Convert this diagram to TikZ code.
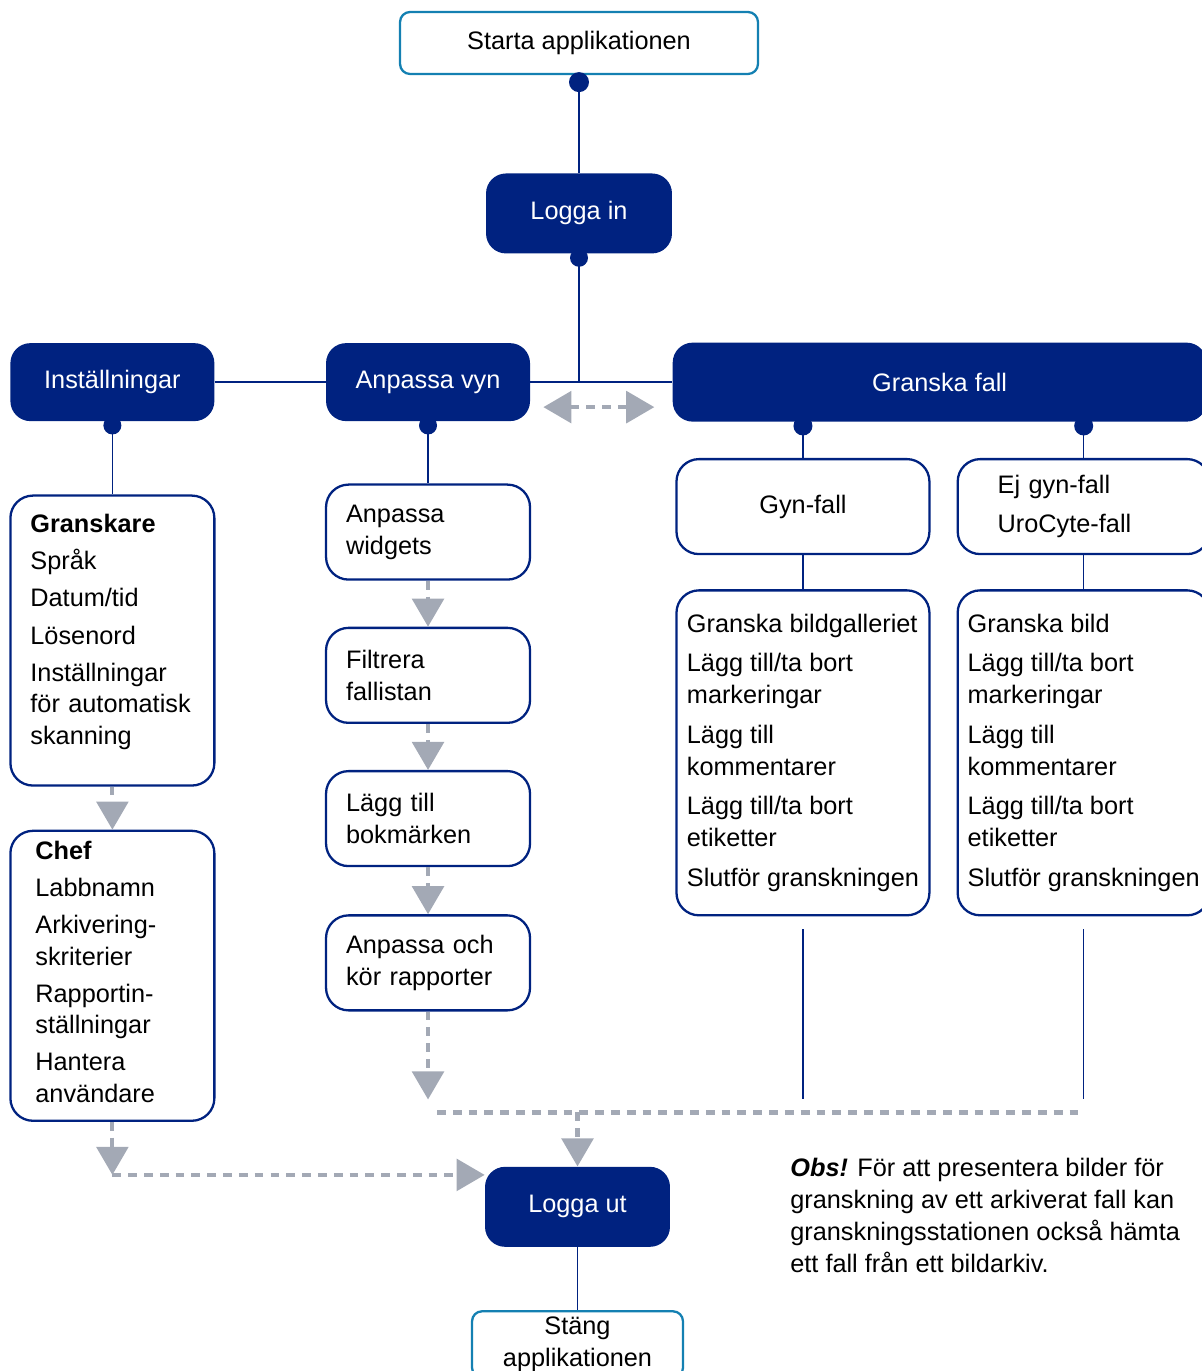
\documentclass[tikz,border=0pt]{standalone}
\usepackage{fontspec}
\setmainfont{Liberation Sans}
\usepackage{xcolor}
\usepackage{tikz}
\usetikzlibrary{arrows.meta,positioning}

\definecolor{boxnavy}{RGB}{0,34,128}
\definecolor{endteal}{RGB}{20,128,178}
\definecolor{arrowgray}{RGB}{163,169,181}

\begin{document}
\begin{tikzpicture}[
    x=0.02cm, y=-0.02cm,
    every node/.style={font=\fontsize{14.4}{18.1}\selectfont},
    endbox/.style={rectangle, draw=endteal, line width=1.3pt, fill=white, rounded corners=0.2cm, text centered},
    mainbox/.style={rectangle, fill=boxnavy, text=white, rounded corners=0.4cm, minimum height=1.56cm, text centered},
    stepbox/.style={rectangle, draw=boxnavy, line width=1.3pt, fill=white, rounded corners=0.45cm, text width=3.28cm, inner xsep=0.4cm, minimum height=1.9cm, align=left},
    listbox/.style={rectangle, draw=boxnavy, line width=1.3pt, fill=white, rounded corners=0.45cm, align=left},
    conn/.style={draw=boxnavy, line width=0.8pt},
    grayline/.style={draw=arrowgray, line width=2.3pt, dash pattern=on 5pt off 4pt},
    grayarrow/.style={grayline, -{Triangle[length=16pt,width=18pt]}},
    graytwin/.style={grayline, {Triangle[length=16pt,width=18pt]}-{Triangle[length=16pt,width=18pt]}}
]
    \useasboundingbox (0,0) rectangle (1202,1371);
    \clip (0,0) rectangle (1202,1371);

    % Start and login
    \node[endbox, minimum width=7.16cm, minimum height=1.24cm] (start) at (579,43) {Starta applikationen};
    \node[mainbox, minimum width=3.72cm, minimum height=1.6cm, below=1.96cm of start] (login) {Logga in};

    % Main row
    \node[mainbox, minimum width=4.08cm, below=1.78cm of login, xshift=-3.02cm] (view) {Anpassa vyn};
    \node[mainbox, minimum width=4.08cm, left=2.22cm of view] (settings) {Inställningar};
    \node[mainbox, minimum width=10.68cm, minimum height=1.58cm, right=2.84cm of view] (review) {Granska fall};

    % Settings column
    \node[stepbox, minimum height=5.8cm, below=1.46cm of settings] (reviewer) {\textbf{Granskare}\\[3pt] Språk\\[3pt] Datum/tid\\[3pt] Lösenord\\[3pt] Inställningar\\ för automatisk\\ skanning\\[-5.6pt] \mbox{}};
    \node[stepbox, text width=3.08cm, inner xsep=0.5cm, minimum height=5.8cm, below=0.86cm of reviewer] (chef) {\textbf{Chef}\\[3pt] Labbnamn\\[3pt] Arkivering-\\ skriterier\\[3pt] Rapportin-\\ ställningar\\[3pt] Hantera\\ användare\\[-13.5pt] \mbox{}};

    % View column
    \node[stepbox, below=1.24cm of view] (widgets) {Anpassa\\ widgets};
    \node[stepbox, below=0.92cm of widgets] (filter) {Filtrera\\ fallistan};
    \node[stepbox, below=0.92cm of filter] (bookmarks) {Lägg till\\ bokmärken};
    \node[stepbox, below=0.94cm of bookmarks] (reports) {Anpassa och\\ kör rapporter};

    % Review columns
    \node[listbox, minimum width=5.06cm, minimum height=1.9cm, below=0.72cm of review.south west, anchor=north west, xshift=0.06cm] (gyn) {Gyn-fall};
    \node[listbox, minimum width=5.04cm, minimum height=1.9cm, text width=3.44cm, inner xsep=0.8cm, right=0.52cm of gyn] (nongyn) {Ej gyn-fall\\[4.5pt] UroCyte-fall};
    \node[listbox, minimum width=5.06cm, minimum height=6.5cm, inner xsep=0.2cm, below=0.68cm of gyn] (gynlist) {Granska bildgalleriet\\[4.5pt] Lägg till/ta bort\\ markeringar\\[4.5pt] Lägg till\\ kommentarer\\[4.5pt] Lägg till/ta bort\\ etiketter\\[4.5pt] Slutför granskningen};
    \node[listbox, minimum width=5.04cm, minimum height=6.5cm, inner xsep=0.2cm, below=0.68cm of nongyn] (nongynlist) {Granska bild\\[4.5pt] Lägg till/ta bort\\ markeringar\\[4.5pt] Lägg till\\ kommentarer\\[4.5pt] Lägg till/ta bort\\ etiketter\\[4.5pt] Slutför granskningen};

    % Logout and close
    \node[mainbox, minimum width=3.7cm, minimum height=1.6cm, below=3.1cm of reports, xshift=2.99cm] (logout) {Logga ut};
    \node[endbox, minimum width=4.22cm, minimum height=1.3cm, below=1.26cm of logout, align=center] (close) {Stäng\\ applikationen};

    % Note
    \node[anchor=north west, inner sep=0pt, align=left] (note) at (790,1158) {\textbf{\textit{Obs!}} För att presentera bilder för\\ granskning av ett arkiverat fall kan\\ granskningsstationen också hämta\\ ett fall från ett bildarkiv.};

    % Solid connectors
    \draw[conn] (start.south) -- (login.north);
    \draw[conn] (login.south) -- (login.south |- review.west);
    \draw[conn] (settings) -- (view);
    \draw[conn] (view) -- (review);
    \draw[conn] (settings) -- (reviewer);
    \draw[conn] (view) -- (widgets);
    \draw[conn] (gyn.north |- review.south) -- (gyn);
    \draw[conn] (nongyn.north |- review.south) -- (nongyn);
    \draw[conn] (gyn) -- (gynlist);
    \draw[conn] (nongyn) -- (nongynlist);
    \draw[conn] ([yshift=-0.26cm]gynlist.south) -- ([yshift=-3.66cm]gynlist.south);
    \draw[conn] ([yshift=-0.26cm]nongynlist.south) -- ([yshift=-3.66cm]nongynlist.south);
    \draw[conn] (logout) -- (close);

    % Dots
    \fill[boxnavy] ([yshift=-0.14cm]start.south) circle (0.2cm);
    \foreach \n in {login, settings, view}
        \fill[boxnavy] ([yshift=-0.08cm]\n.south) circle (0.18cm);
    \fill[boxnavy] ([yshift=-0.08cm]gyn.north |- review.south) circle (0.19cm);
    \fill[boxnavy] ([yshift=-0.08cm]nongyn.north |- review.south) circle (0.19cm);

    % Gray flow
    \draw[grayarrow] (reviewer) -- (chef);
    \draw[grayarrow] (widgets) -- (filter);
    \draw[grayarrow] (filter) -- (bookmarks);
    \draw[grayarrow] (bookmarks) -- (reports);
    \coordinate (repend) at ([yshift=-1.76cm]reports.south);
    \draw[grayarrow] (reports) -- (repend);
    \coordinate (chefend) at ([yshift=-1.06cm]chef.south);
    \draw[grayarrow] (chef) -- (chefend);
    \draw[grayarrow] (chefend) -- (chefend -| logout.west);
    \coordinate (mergeleft) at ([xshift=0.18cm, yshift=-2.02cm]reports.south);
    \draw[grayline] (mergeleft) -- (mergeleft -| nongynlist.south);
    \draw[grayarrow] (logout.north |- mergeleft) -- (logout.north);
    \coordinate (swapleft) at ([yshift=-0.5cm]view.east);
    \coordinate (swapright) at (swapleft -| review.west);
    \draw[graytwin, shorten <=0.26cm, shorten >=0.36cm] (swapleft) -- (swapright);

\end{tikzpicture}
\end{document}
